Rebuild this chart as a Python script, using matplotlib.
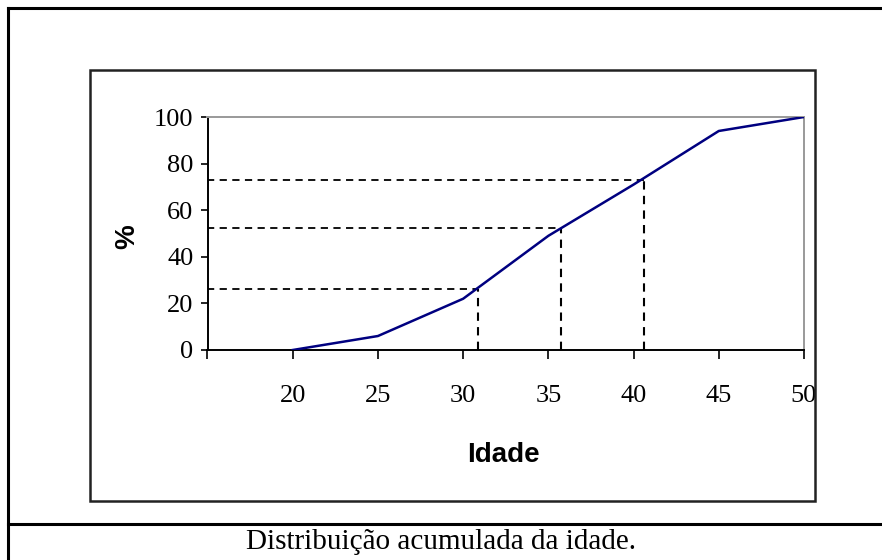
"""Cumulative age distribution chart (Excel-style figure with caption)."""
import matplotlib
matplotlib.use("Agg")
import matplotlib.pyplot as plt
from matplotlib.lines import Line2D
from matplotlib.patches import Rectangle

# data
idade = [20, 25, 30, 35, 40, 45, 50]
acumulado = [0, 6, 22, 49, 71, 94, 100]
guia_x = [30.9, 35.75, 40.6]
guia_y = [26.1, 52.3, 72.9]
x_ticks = [15, 20, 25, 30, 35, 40, 45, 50]
x_labels = ["", "20", "25", "30", "35", "40", "45", "50"]
y_ticks = [0, 20, 40, 60, 80, 100]

W, H = 882, 560
SERIF = "Liberation Serif"
SANS = "Liberation Sans"


def fx(px):
    return px / W


def fy(py):
    return 1 - py / H


fig = plt.figure(figsize=(W / 100, H / 100), dpi=100)

# outer table frame and caption separator
fig.add_artist(Line2D([fx(8), 1], [fy(8), fy(8)], color="black", lw=2.2))
fig.add_artist(Line2D([fx(8), fx(8)], [fy(8), 0], color="black", lw=2.2))
fig.add_artist(Line2D([fx(8), 1], [fy(524), fy(524)], color="black", lw=2.2))

# chart box
fig.add_artist(Rectangle((fx(90), fy(501)), fx(815) - fx(90), fy(70) - fy(501),
                         fill=False, edgecolor="#222222", lw=1.8))

ax = fig.add_axes([fx(207.5), fy(350), fx(804) - fx(207.5), fy(117) - fy(350)])
ax.plot(idade, acumulado, color="#000080", lw=1.8, zorder=3)
for gx, gy in zip(guia_x, guia_y):
    ax.plot([15, gx], [gy, gy], color="black", lw=1.3, ls=(0, (4, 3)), zorder=2)
    ax.plot([gx, gx], [0, gy], color="black", lw=1.5, ls=(0, (4, 3)), zorder=2)

ax.set_xlim(15, 50)
ax.set_ylim(0, 100)
ax.set_xticks(x_ticks)
ax.set_xticklabels(x_labels, fontfamily=SERIF, fontsize=19)
ax.set_yticks(y_ticks)
ax.set_yticklabels([str(v) for v in y_ticks], fontfamily=SERIF, fontsize=19)
ax.tick_params(axis="x", direction="out", length=6.5, width=1.2, pad=19)
ax.tick_params(axis="y", direction="out", length=5, width=1.2, pad=5)
for side in ("left", "bottom"):
    ax.spines[side].set_color("black")
    ax.spines[side].set_linewidth(1.4)
for side in ("top", "right"):
    ax.spines[side].set_color("#999999")
    ax.spines[side].set_linewidth(1.4)

fig.text(fx(127), fy(237), "%", rotation=90, ha="center", va="center",
         fontfamily=SANS, fontweight="bold", fontsize=20)
fig.text(fx(503), fy(455), "Idade", ha="center", va="center",
         fontfamily=SANS, fontweight="bold", fontsize=20)
fig.text(0.5, fy(542), "Distribuição acumulada da idade.", ha="center", va="center",
         fontfamily=SERIF, fontsize=21)

fig.savefig("out.png", dpi=100)
